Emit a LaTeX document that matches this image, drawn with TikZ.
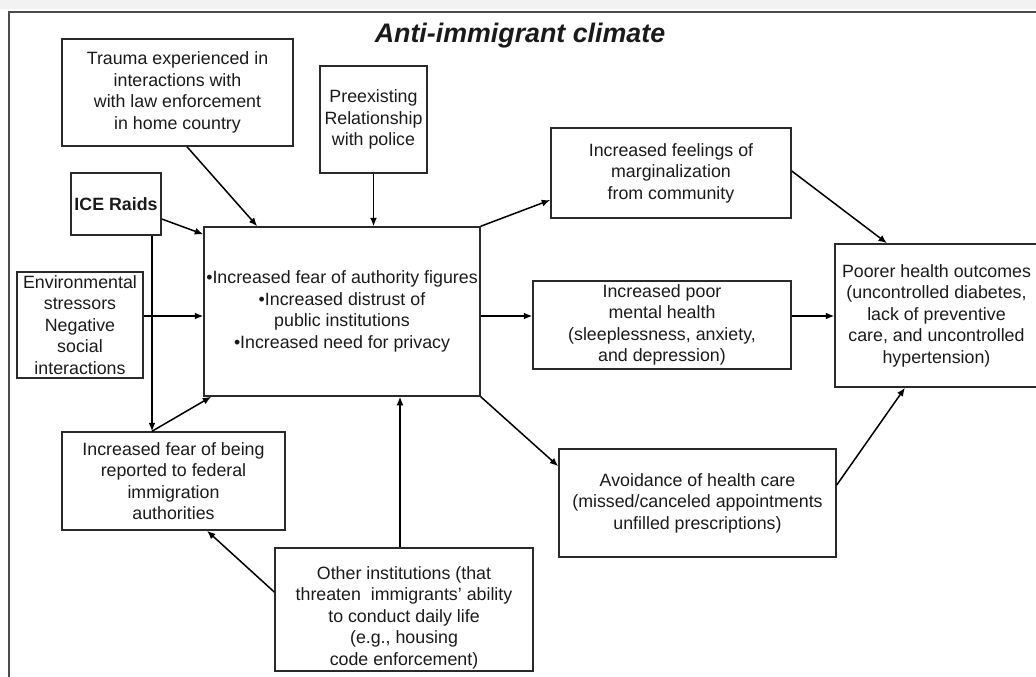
\documentclass[tikz,border=0pt]{standalone}
\usepackage{fontspec}
\setmainfont{Liberation Sans}
\usetikzlibrary{arrows.meta,calc}
\definecolor{ink}{HTML}{1A1A1A}
\definecolor{edge}{HTML}{2A2A2A}
\tikzset{
  box/.style={draw=edge, line width=1.5pt, rectangle, align=center, text=ink,
    inner sep=1pt, font=\fontsize{17.8}{21.5}\selectfont},
  lbl/.style={align=center, text=ink, inner sep=0pt, font=\fontsize{17.8}{21.5}\selectfont},
  conn/.style={draw=black, line width=1.5pt, -{Latex[length=8.5pt,width=7pt]}},
}
\begin{document}
\begin{tikzpicture}[x=1pt,y=-1pt]
\useasboundingbox (0,0) rectangle (1036,677);
\clip (0,0) rectangle (1036,677);
% window frame
\fill[black!5] (0,0) rectangle (1036,9);
\draw[draw=black!70, line width=2pt] (9,677) -- (9,12) -- (1040,12);
% title
\node[anchor=base, text=ink, inner sep=0pt, font=\fontsize{26.8}{30}\selectfont\bfseries\itshape] (title) at (520,43) {Anti-immigrant climate};
% boxes
\node[box, minimum width=231, minimum height=107] (trauma) at (177.5,92.5)
  {Trauma experienced in\\ interactions with\\with law enforcement\\ in home country};
\node[box, minimum width=107, minimum height=107] (pre) at (373.5,119.5)
  {Preexisting\\Relationship\\with police};
\node[box, minimum width=90, minimum height=62, font=\fontsize{17.8}{21.5}\selectfont\bfseries] (ice) at (116,204) {ICE Raids};
\node[box, minimum width=276, minimum height=169] (central) at (342,311.5)
  {\textbullet Increased fear of authority figures\\\textbullet Increased distrust of\\public institutions\\\textbullet Increased need for privacy};
\node[box, minimum width=126, minimum height=106, inner sep=0pt] (env) at (80,325)
  {Environmental\\stressors\\Negative\\social\\interactions};
\node[box, minimum width=223, minimum height=98] (fear) at (173.5,481)
  {Increased fear of being\\reported to federal\\immigration\\authorities};
\node[box, minimum width=258, minimum height=123] (other) at (404,609.5) {};
\node[lbl] (otherT) at ($(other.center)+(0,-8pt)$)
  {Other institutions (that\\threaten\ \ immigrants' ability\\to conduct daily life\\(e.g., housing\\code enforcement)};
\node[box, minimum width=240, minimum height=90] (marg) at (671,173)
  {Increased feelings of\\marginalization\\from community};
\node[box, minimum width=258, minimum height=88] (mental) at (662,325)
  {Increased poor\\mental health\\(sleeplessness, anxiety,\\and depression)};
\node[box, minimum width=203, minimum height=143] (poorer) at (936.5,315.5)
  {Poorer health outcomes\\(uncontrolled diabetes,\\lack of preventive\\care, and uncontrolled\\hypertension)};
\node[box, minimum width=277, minimum height=108] (avoid) at (697.5,503)
  {Avoidance of health care\\(missed/canceled appointments\\unfilled prescriptions)};
% connectors
\draw[conn] ([xshift=9.5pt]trauma.south) -- ([xshift=54pt]central.north west);
\draw[conn] (pre.south) -- (pre.south |- central.north);
\draw[conn] ([yshift=-15pt]ice.east) -- ([yshift=-8pt]central.north west);
\draw[conn] ([xshift=36pt]ice.south) -- ([xshift=36pt]ice.south |- fear.north);
\draw[conn] ([yshift=9pt]env.east) -- ([yshift=9pt]env.east -| central.west);
\draw[conn] ([xshift=-21.5pt]fear.north) -- ([xshift=8pt]central.south west);
\draw[conn] ([yshift=17.5pt]other.west) -- ([xshift=33.5pt]fear.south);
\draw[conn] ([xshift=-4pt]other.north) -- ([xshift=-4pt]other.north |- central.south);
\draw[conn] (central.north east) -- ([yshift=-27pt]marg.west);
\draw[conn] ([yshift=-4.5pt]central.east) -- ([yshift=-4.5pt]central.east -| mental.west);
\draw[conn] (central.south east) -- ([yshift=-18pt]avoid.north west);
\draw[conn] ([yshift=2pt]marg.east) -- ([xshift=-49.5pt]poorer.north);
\draw[conn] ([yshift=9pt]mental.east) -- ([yshift=9pt]mental.east -| poorer.west);
\draw[conn] ([yshift=18pt]avoid.east) -- ([xshift=-31.5pt]poorer.south);
\end{tikzpicture}
\end{document}
